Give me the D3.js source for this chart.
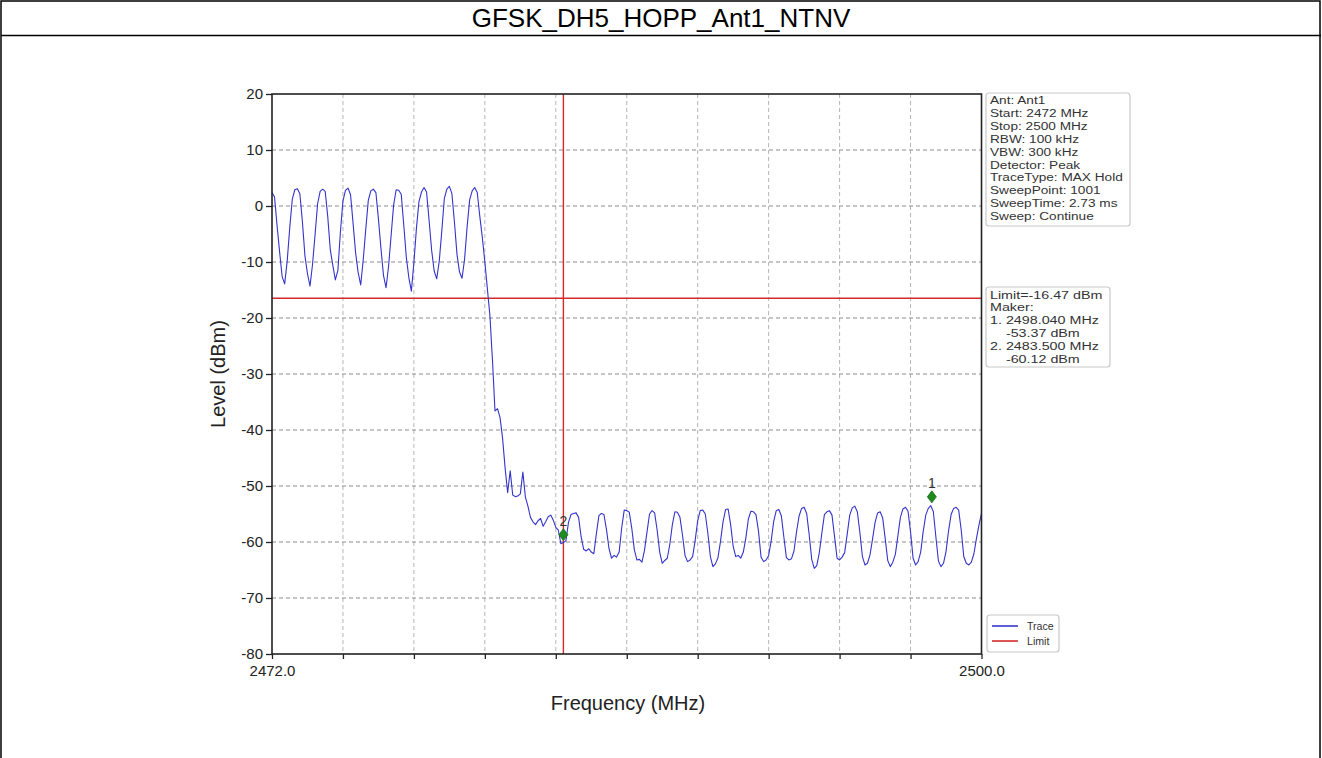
<!DOCTYPE html>
<html><head><meta charset="utf-8">
<script src="https://cdn.jsdelivr.net/npm/d3@7"></script>
<style>body{margin:0;background:#fff} svg{display:block;font-family:"Liberation Sans",Arial,sans-serif}</style>
</head><body><svg id="c" width="1322" height="758"></svg>
<script>
const title = "GFSK_DH5_HOPP_Ant1_NTNV";
const startFreq = 2472, stopFreq = 2500, stepMHz = 0.1;
const traceLevels = [
  2.4, 1.6, -3.5, -8.2, -12.6, -13.9, -9.8, -3.9, 1.2, 2.9,
  3.1, 2.2, -2.8, -8.9, -12.1, -14.3, -10.4, -5.1, 0.4, 2.6,
  3.0, 2.6, -1.9, -7.8, -10.6, -13.2, -11.5, -4.6, 0.9, 2.8,
  3.2, 2.0, -3.1, -8.4, -11.9, -14.1, -9.6, -4.2, 1.0, 2.7,
  3.0, 2.4, -2.3, -7.6, -12.4, -14.6, -10.8, -5.3, 0.2, 2.9,
  2.8, 2.1, -3.4, -9.1, -12.8, -15.2, -10.1, -4.0, 0.8, 2.5,
  3.3, 2.5, -2.6, -7.9, -11.6, -13.0, -9.9, -4.5, 1.3, 3.0,
  3.5, 2.2, -2.9, -8.6, -11.8, -12.9, -9.5, -3.7, 1.1, 2.7,
  3.3, 2.4, -1.8, -5.6, -10.0, -14.8, -19.6, -27.5, -36.6, -36.2,
  -37.8, -41.5, -46.8, -51.2, -47.3, -51.6, -51.9, -51.8, -51.4, -47.5,
  -52.0, -53.6, -55.6, -56.4, -56.9, -56.2, -55.8, -57.2, -56.4, -55.5,
  -55.2, -56.1, -57.4, -57.9, -60.3, -60.1, -59.8, -56.5, -55.1, -54.9,
  -54.8, -55.6, -59.1, -61.3, -61.6, -61.2, -61.8, -62.1, -58.6, -55.3,
  -54.9, -55.1, -57.8, -61.2, -62.9, -62.4, -62.7, -61.8, -57.5, -54.3,
  -54.4, -54.7, -57.6, -61.4, -63.2, -63.1, -63.6, -61.5, -58.2, -55.0,
  -54.4, -54.8, -57.9, -61.8, -63.8, -63.3, -62.9, -60.4, -56.9, -54.6,
  -54.7, -55.6, -58.8, -62.4, -63.5, -63.2, -62.6, -59.7, -56.2, -54.4,
  -54.3, -55.0, -58.4, -62.6, -64.4, -63.9, -62.8, -59.9, -56.4, -54.2,
  -54.1, -56.9, -60.8, -62.6, -62.4, -62.9, -61.8, -59.3, -55.9, -54.5,
  -54.6, -55.1, -58.1, -62.7, -63.5, -63.2, -62.4, -59.8, -56.3, -54.4,
  -54.2, -55.3, -59.1, -62.8, -63.2, -63.0, -61.6, -58.2, -55.4, -54.0,
  -53.8, -54.9, -58.7, -63.1, -64.7, -64.2, -61.9, -58.4, -55.1, -54.6,
  -54.4, -55.2, -59.0, -62.9, -63.2, -62.7, -61.9, -58.6, -55.2, -53.9,
  -53.6, -54.6, -58.3, -62.6, -64.1, -63.8, -62.3, -59.5, -56.5, -54.8,
  -54.6, -55.7, -59.4, -63.3, -64.4, -63.6, -62.2, -58.9, -55.6, -54.1,
  -53.8, -54.5, -58.2, -62.9, -64.1, -63.5, -61.8, -58.1, -55.2, -54.0,
  -53.5, -54.6, -59.1, -63.4, -64.4, -63.8, -61.7, -58.0, -55.1, -54.0,
  -53.8, -54.3, -57.9, -62.6, -63.8, -64.1, -63.6, -62.1, -59.4, -57.0,
  -54.9
];
const limitLevel = -16.47;
const markerLineFreq = 2483.5;
const markerFreqs = [2498.04, 2483.5];
const markerLevels = [-53.37, -60.12];
const markerLabels = ["1", "2"];
const yTicks = [20, 10, 0, -10, -20, -30, -40, -50, -60, -70, -80];
const xDivisions = 10;
const xLabel = "Frequency (MHz)";
const yLabel = "Level (dBm)";
const infoLines = ["Ant: Ant1", "Start: 2472 MHz", "Stop: 2500 MHz", "RBW: 100 kHz", "VBW: 300 kHz",
  "Detector: Peak", "TraceType: MAX Hold", "SweepPoint: 1001", "SweepTime: 2.73 ms", "Sweep: Continue"];
const limitLines = ["Limit=-16.47 dBm", "Maker:", "1. 2498.040 MHz", "    -53.37 dBm", "2. 2483.500 MHz", "    -60.12 dBm"];
const legendNames = ["Trace", "Limit"];
const traceColor = "#3434cc", limitColor = "#d42a2a";

const svg = d3.select("#c");
svg.append("rect").attr("x", 1).attr("y", 1).attr("width", 1319).attr("height", 770)
  .attr("fill", "none").attr("stroke", "#000").attr("stroke-width", 1.5);
svg.append("line").attr("x1", 1).attr("x2", 1321).attr("y1", 35.5).attr("y2", 35.5)
  .attr("stroke", "#000").attr("stroke-width", 1.5);
svg.append("text").attr("x", 661).attr("y", 27).attr("text-anchor", "middle")
  .attr("font-size", 26).attr("fill", "#000").text(title);

const x = d3.scaleLinear().domain([startFreq, stopFreq]).range([272, 981.5]);
const y = d3.scaleLinear().domain([-80, 20]).range([654, 94]);
const xTickVals = d3.range(xDivisions + 1).map(i => startFreq + i * (stopFreq - startFreq) / xDivisions);

const plot = svg.append("g");
// grid
plot.selectAll(".gx").data(xTickVals.slice(1, -1)).join("line")
  .attr("x1", d => x(d)).attr("x2", d => x(d)).attr("y1", y(20)).attr("y2", y(-80))
  .attr("stroke", "#b4b4b4").attr("stroke-width", 1).attr("stroke-dasharray", "4,3");
plot.selectAll(".gy").data(yTicks.slice(1, -1)).join("line")
  .attr("x1", x(startFreq)).attr("x2", x(stopFreq)).attr("y1", d => y(d)).attr("y2", d => y(d))
  .attr("stroke", "#8c8c8c").attr("stroke-width", 1).attr("stroke-dasharray", "4,3");

// axes
const yAxis = d3.axisLeft(y).tickValues(yTicks).tickSize(6).tickPadding(3).tickFormat(d => String(d));
const gy = svg.append("g").attr("transform", `translate(${x(startFreq)},0)`).call(yAxis);
const xAxis = d3.axisBottom(x).tickValues(xTickVals).tickSize(5).tickPadding(6)
  .tickFormat((d, i) => (i === 0 || i === xDivisions) ? d.toFixed(1) : "");
const gx = svg.append("g").attr("transform", `translate(0,${y(-80)})`).call(xAxis);
[gx, gy].forEach(g => {
  g.select(".domain").remove();
  g.selectAll("line").attr("stroke", "#222").attr("stroke-width", 1.3);
  g.selectAll("text").attr("font-size", 15).attr("fill", "#222").attr("font-family", "Liberation Sans, Arial, sans-serif");
});

// limit line + vertical marker line
plot.append("line").attr("x1", x(startFreq)).attr("x2", x(stopFreq)).attr("y1", y(limitLevel)).attr("y2", y(limitLevel))
  .attr("stroke", limitColor).attr("stroke-width", 1.4);
plot.append("line").attr("x1", x(markerLineFreq)).attr("x2", x(markerLineFreq)).attr("y1", y(20)).attr("y2", y(-80))
  .attr("stroke", limitColor).attr("stroke-width", 1.4);

// trace
const line = d3.line().x((d, i) => x(startFreq + i * stepMHz)).y(d => y(d));
plot.append("path").datum(traceLevels).attr("d", line).attr("fill", "none")
  .attr("stroke", traceColor).attr("stroke-width", 1.1).attr("stroke-linejoin", "round");

// frame
svg.append("rect").attr("x", x(startFreq)).attr("y", y(20)).attr("width", x(stopFreq) - x(startFreq))
  .attr("height", y(-80) - y(20)).attr("fill", "none").attr("stroke", "#222").attr("stroke-width", 1.6);

// markers
const mk = svg.append("g");
markerFreqs.forEach((f, i) => {
  const cx = x(f), cy = y(markerLevels[i]) - 8;
  mk.append("path").attr("d", `M${cx},${cy - 6}L${cx + 4.5},${cy}L${cx},${cy + 6}L${cx - 4.5},${cy}Z`)
    .attr("fill", "#1f8a1f").attr("stroke", "#176e17").attr("stroke-width", 0.8);
  mk.append("text").attr("x", cx).attr("y", cy - 9).attr("text-anchor", "middle")
    .attr("font-size", 14).attr("fill", "#333").text(markerLabels[i]);
});

// axis labels
svg.append("text").attr("x", 628).attr("y", 710).attr("text-anchor", "middle")
  .attr("font-size", 20).attr("fill", "#222").text(xLabel);
svg.append("text").attr("transform", "translate(225,374) rotate(-90)").attr("text-anchor", "middle")
  .attr("font-size", 20).attr("fill", "#222").text(yLabel);

// boxes
function box(x0, y0, w, h) {
  svg.append("rect").attr("x", x0).attr("y", y0).attr("width", w).attr("height", h).attr("rx", 3)
    .attr("fill", "#fff").attr("stroke", "#c8c8c8").attr("stroke-width", 1.2);
}
box(986, 93, 144, 133);
svg.append("g").selectAll("text").data(infoLines).join("text")
  .attr("transform", (d, i) => `translate(990,${104 + i * 12.9}) scale(1.24,1)`)
  .attr("font-size", 11).attr("fill", "#333").text(d => d);
box(986, 287, 124, 80);
svg.append("g").selectAll("text").data(limitLines).join("text")
  .attr("transform", (d, i) => `translate(990,${298.5 + i * 12.8}) scale(1.3,1)`)
  .attr("font-size", 11).attr("fill", "#333").style("white-space", "pre").text(d => d);

// legend
box(987, 615, 72, 37);
const legColors = [traceColor, limitColor];
legendNames.forEach((n, i) => {
  const yy = 626 + i * 15;
  svg.append("line").attr("x1", 992).attr("x2", 1018).attr("y1", yy).attr("y2", yy)
    .attr("stroke", legColors[i]).attr("stroke-width", 1.6);
  svg.append("text").attr("x", 1027).attr("y", yy + 4).attr("font-size", 10.6).attr("fill", "#333").text(n);
});
</script></body></html>
